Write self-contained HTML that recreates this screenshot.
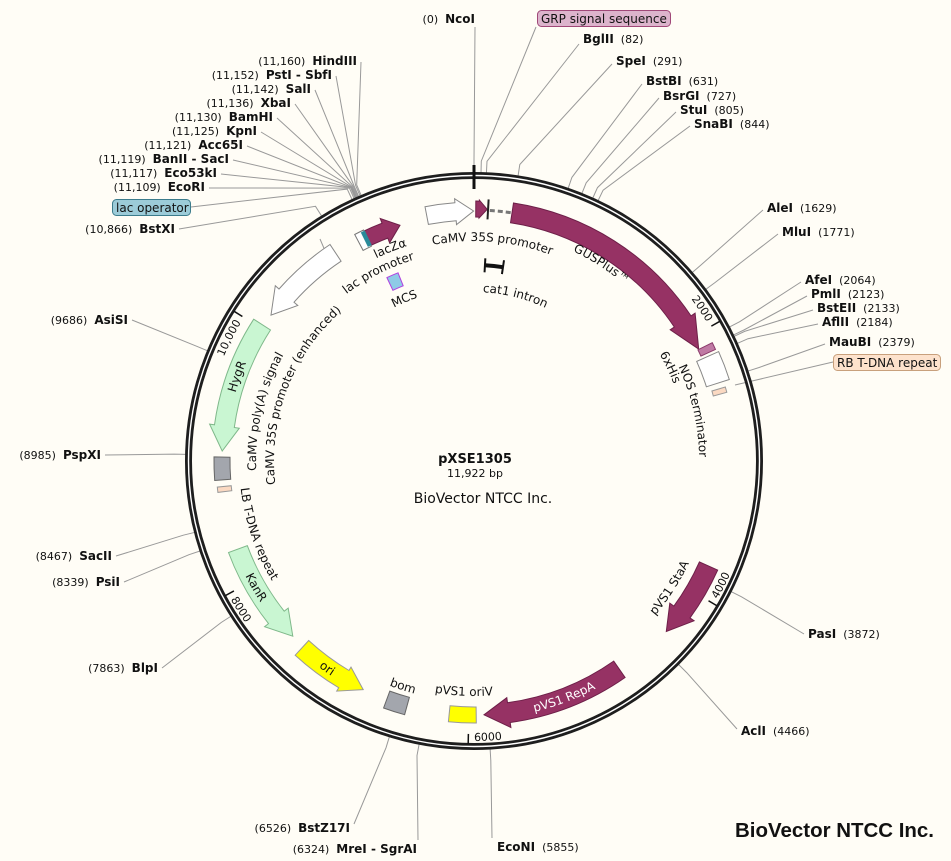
<!DOCTYPE html>
<html><head><meta charset="utf-8">
<style>
html,body{margin:0;padding:0;background:#fffdf6;}
svg{display:block;font-family:"DejaVu Sans","Liberation Sans",sans-serif;}
.n{font-size:11px;fill:#111;}
.b{font-size:12px;font-weight:bold;fill:#111;}
.f{font-size:12px;fill:#111;}
.tk{font-size:11px;fill:#111;}
</style></head>
<body>
<svg id="s" width="951" height="861" viewBox="0 0 951 861" xmlns="http://www.w3.org/2000/svg">
<rect width="951" height="861" fill="#fffdf6"/>
<defs id="d">
<path id="t1"/><path id="t2"/><path id="t3"/><path id="t4"/><path id="t5"/><path id="t6"/>
<path id="t7"/><path id="t8"/><path id="t9"/><path id="t10"/><path id="t11"/><path id="t12"/>
<path id="t13"/><path id="t14"/><path id="t15"/><path id="t16"/><path id="t17"/><path id="t18"/>
<path id="k2"/><path id="k4"/><path id="k6"/><path id="k8"/><path id="k10"/>
</defs>
<g id="lines" stroke="#999" stroke-width="1" fill="none"></g>
<circle cx="474" cy="461" r="285.5" fill="none" stroke="#1e1e1e" stroke-width="7"/>
<circle cx="474" cy="461" r="285.5" fill="none" stroke="#fff" stroke-width="1.4"/>
<g id="feat"></g>

<!-- boxed labels -->
<rect x="537.5" y="10.5" width="133" height="16" rx="4" fill="#dcb4cc" stroke="#a04878"/>
<text x="541" y="23" font-size="12" fill="#111">GRP signal sequence</text>
<rect x="112.5" y="199.5" width="78" height="16" rx="4" fill="#9ccbd8" stroke="#3c7c8c"/>
<text x="116" y="212" font-size="12" fill="#111">lac operator</text>
<rect x="833.5" y="354.5" width="107" height="16" rx="4" fill="#fde2cc" stroke="#c8a07c"/>
<text x="837" y="367" font-size="12" fill="#111">RB T-DNA repeat</text>

<!-- left cluster -->
<g text-anchor="end">
<text x="357" y="65"><tspan class="n">(11,160)</tspan><tspan class="b" dx="7">HindIII</tspan></text>
<text x="332" y="79"><tspan class="n">(11,152)</tspan><tspan class="b" dx="7">PstI - SbfI</tspan></text>
<text x="311" y="93"><tspan class="n">(11,142)</tspan><tspan class="b" dx="7">SalI</tspan></text>
<text x="291" y="107"><tspan class="n">(11,136)</tspan><tspan class="b" dx="7">XbaI</tspan></text>
<text x="273" y="121"><tspan class="n">(11,130)</tspan><tspan class="b" dx="7">BamHI</tspan></text>
<text x="257" y="135"><tspan class="n">(11,125)</tspan><tspan class="b" dx="7">KpnI</tspan></text>
<text x="243" y="149"><tspan class="n">(11,121)</tspan><tspan class="b" dx="7">Acc65I</tspan></text>
<text x="229" y="163"><tspan class="n">(11,119)</tspan><tspan class="b" dx="7">BanII - SacI</tspan></text>
<text x="217" y="177"><tspan class="n">(11,117)</tspan><tspan class="b" dx="7">Eco53kI</tspan></text>
<text x="205" y="191"><tspan class="n">(11,109)</tspan><tspan class="b" dx="7">EcoRI</tspan></text>
<text x="175" y="233"><tspan class="n">(10,866)</tspan><tspan class="b" dx="7">BstXI</tspan></text>
<text x="475" y="23"><tspan class="n">(0)</tspan><tspan class="b" dx="7">NcoI</tspan></text>
<text x="128" y="324"><tspan class="n">(9686)</tspan><tspan class="b" dx="7">AsiSI</tspan></text>
<text x="101" y="459"><tspan class="n">(8985)</tspan><tspan class="b" dx="7">PspXI</tspan></text>
<text x="112" y="560"><tspan class="n">(8467)</tspan><tspan class="b" dx="7">SacII</tspan></text>
<text x="120" y="586"><tspan class="n">(8339)</tspan><tspan class="b" dx="7">PsiI</tspan></text>
<text x="158" y="672"><tspan class="n">(7863)</tspan><tspan class="b" dx="7">BlpI</tspan></text>
<text x="350" y="832"><tspan class="n">(6526)</tspan><tspan class="b" dx="7">BstZ17I</tspan></text>
<text x="417" y="853"><tspan class="n">(6324)</tspan><tspan class="b" dx="7">MreI - SgrAI</tspan></text>
</g>
<g>
<text x="583" y="43"><tspan class="b">BglII</tspan><tspan class="n" dx="7">(82)</tspan></text>
<text x="616" y="65"><tspan class="b">SpeI</tspan><tspan class="n" dx="7">(291)</tspan></text>
<text x="646" y="85"><tspan class="b">BstBI</tspan><tspan class="n" dx="7">(631)</tspan></text>
<text x="663" y="100"><tspan class="b">BsrGI</tspan><tspan class="n" dx="7">(727)</tspan></text>
<text x="680" y="114"><tspan class="b">StuI</tspan><tspan class="n" dx="7">(805)</tspan></text>
<text x="694" y="128"><tspan class="b">SnaBI</tspan><tspan class="n" dx="7">(844)</tspan></text>
<text x="767" y="212"><tspan class="b">AleI</tspan><tspan class="n" dx="7">(1629)</tspan></text>
<text x="782" y="236"><tspan class="b">MluI</tspan><tspan class="n" dx="7">(1771)</tspan></text>
<text x="805" y="284"><tspan class="b">AfeI</tspan><tspan class="n" dx="7">(2064)</tspan></text>
<text x="811" y="298"><tspan class="b">PmlI</tspan><tspan class="n" dx="7">(2123)</tspan></text>
<text x="817" y="312"><tspan class="b">BstEII</tspan><tspan class="n" dx="7">(2133)</tspan></text>
<text x="822" y="326"><tspan class="b">AflII</tspan><tspan class="n" dx="7">(2184)</tspan></text>
<text x="829" y="346"><tspan class="b">MauBI</tspan><tspan class="n" dx="7">(2379)</tspan></text>
<text x="808" y="638"><tspan class="b">PasI</tspan><tspan class="n" dx="7">(3872)</tspan></text>
<text x="741" y="735"><tspan class="b">AclI</tspan><tspan class="n" dx="7">(4466)</tspan></text>
<text x="497" y="851"><tspan class="b">EcoNI</tspan><tspan class="n" dx="7">(5855)</tspan></text>
</g>

<!-- feature labels along arcs -->
<g class="f" text-anchor="middle">
<text><textPath href="#t1" startOffset="50%">CaMV 35S promoter</textPath></text>
<text><textPath href="#t2" startOffset="50%">GUSPlus™</textPath></text>
<text><textPath href="#t3" startOffset="50%">lacZα</textPath></text>
<text><textPath href="#t4" startOffset="50%">lac promoter</textPath></text>
<text><textPath href="#t5" startOffset="50%">MCS</textPath></text>
<text><textPath href="#t6" startOffset="50%">cat1 intron</textPath></text>
<text><textPath href="#t7" startOffset="50%">CaMV poly(A) signal</textPath></text>
<text><textPath href="#t8" startOffset="50%">CaMV 35S promoter (enhanced)</textPath></text>
<text><textPath href="#t9" startOffset="50%">HygR</textPath></text>
<text><textPath href="#t10" startOffset="50%">LB T-DNA repeat</textPath></text>
<text><textPath href="#t11" startOffset="50%">KanR</textPath></text>
<text><textPath href="#t12" startOffset="50%">ori</textPath></text>
<text><textPath href="#t13" startOffset="50%">bom</textPath></text>
<text><textPath href="#t14" startOffset="50%">pVS1 oriV</textPath></text>
<text fill="#fff" style="fill:#fff"><textPath href="#t15" startOffset="50%">pVS1 RepA</textPath></text>
<text><textPath href="#t16" startOffset="50%">pVS1 StaA</textPath></text>
<text><textPath href="#t17" startOffset="50%">NOS terminator</textPath></text>
<text><textPath href="#t18" startOffset="50%">6xHis</textPath></text>
</g>
<g class="tk">
<text text-anchor="end"><textPath href="#k2" startOffset="100%">2000</textPath></text>
<text><textPath href="#k4">4000</textPath></text>
<text><textPath href="#k6">6000</textPath></text>
<text><textPath href="#k8">8000</textPath></text>
<text text-anchor="end"><textPath href="#k10" startOffset="100%">10,000</textPath></text>
</g>

<text x="475" y="463" text-anchor="middle" font-size="13" font-weight="bold" fill="#111">pXSE1305</text>
<text x="475" y="477" text-anchor="middle" font-size="11" fill="#111">11,922 bp</text>
<text x="483" y="503" text-anchor="middle" font-size="14" fill="#111">BioVector NTCC Inc.</text>
<text x="735" y="837" font-family="Liberation Sans, sans-serif" font-size="20" font-weight="bold" fill="#111" textLength="199" lengthAdjust="spacingAndGlyphs">BioVector NTCC Inc.</text>
</svg>
<script>
(function(){
var cx=474,cy=461,NS="http://www.w3.org/2000/svg",L=11922;
function P(a,r){var t=a*Math.PI/180;return [cx+r*Math.sin(t),cy-r*Math.cos(t)];}
function f(p){return p[0].toFixed(1)+","+p[1].toFixed(1);}
function ang(x,y){var a=Math.atan2(x-cx,cy-y)*180/Math.PI;if(a<0)a+=360;return a;}
function el(tag,at,par){var e=document.createElementNS(NS,tag);for(var k in at)e.setAttribute(k,at[k]);document.getElementById(par).appendChild(e);return e;}
function arcTxt(c,r,cw,span){span=span||70;
 if(cw)return "M"+f(P(c-span,r))+" A"+r+","+r+" 0 0 1 "+f(P(c+span,r));
 return "M"+f(P(c+span,r))+" A"+r+","+r+" 0 0 0 "+f(P(c-span,r));}
function band(a1,a2,rm,h,fill,stroke,dir,hw,head){
 var ro=rm+h,ri=rm-h,d,lg=(a2-a1)>180?1:0;
 if(!dir){d="M"+f(P(a1,ro))+" A"+ro+","+ro+" 0 "+lg+" 1 "+f(P(a2,ro))+" L"+f(P(a2,ri))+" A"+ri+","+ri+" 0 "+lg+" 0 "+f(P(a1,ri))+" Z";}
 else{var ha=head/rm*180/Math.PI;
  if(dir>0){var b=a2-ha;d="M"+f(P(a1,ro))+" A"+ro+","+ro+" 0 0 1 "+f(P(b,ro))+" L"+f(P(b,rm+hw))+" L"+f(P(a2,rm))+" L"+f(P(b,rm-hw))+" L"+f(P(b,ri))+" A"+ri+","+ri+" 0 0 0 "+f(P(a1,ri))+" Z";}
  else{var b=a1+ha;d="M"+f(P(a1,rm))+" L"+f(P(b,rm+hw))+" L"+f(P(b,ro))+" A"+ro+","+ro+" 0 0 1 "+f(P(a2,ro))+" L"+f(P(a2,ri))+" A"+ri+","+ri+" 0 0 0 "+f(P(b,ri))+" L"+f(P(b,rm-hw))+" Z";}
 }
 return el("path",{d:d,fill:fill,stroke:stroke,"stroke-width":1},"feat");}
var M="#963264",G="#c9f6d2",GS="#7fb88a",Y="#ffff00",YS="#999",GR="#a3a6ad";
// leader lines
var labs=[[361,62,11160],[336,76,11152],[315,90,11142],[295,104,11136],[277,118,11130],[261,132,11125],[247,146,11121],[233,160,11119],[221,174,11117],[209,188,11109],[179,229,10866],
[475,27,0],[132,320,9686],[105,455,8985],[116,556,8467],[124,582,8339],[162,668,7863],[354,824,6526],[418,840,6324],
[579,44,82],[612,64,291],[642,84,631],[659,98,727],[676,112,805],[690,126,844],[763,210,1629],[778,234,1771],[801,282,2064],[807,296,2123],[813,310,2133],[818,324,2184],[825,344,2379],[804,634,3872],[737,729,4466],[492,838,5855]];
labs.forEach(function(l){var a=l[2]/L*360,p1=P(a,300),p2=P(a,288);
 el("polyline",{points:l[0]+","+l[1]+" "+f(p1)+" "+f(p2)},"lines");});
el("polyline",{points:"191,207 "+f(P(335,300))+" "+f(P(335,288))},"lines");
el("polyline",{points:"536,27 "+f(P(1.4,300))+" "+f(P(1.4,288))},"lines");
el("line",{x1:833,y1:362,x2:735,y2:385},"lines");
el("line",{x1:320,y1:239,x2:326,y2:253},"lines");
// features
band(ang(512,213),ang(703,347),251,10,M,"#6d1f48",1,15,32);
band(ang(426,212),359.9,250,9,"#fff","#888",1,13,18);
band(0.4,3.0,252,8,M,"#6d1f48",1,9,8);
var bb=P(3.2,242),bt=P(3.2,262);el("line",{x1:bb[0],y1:bb[1],x2:bt[0],y2:bt[1],stroke:"#222","stroke-width":2},"feat");
el("path",{d:"M"+f(P(3.6,251))+" A251,251 0 0 1 "+f(P(8.6,251)),stroke:"#777","stroke-width":3,fill:"none","stroke-dasharray":"5,3"},"feat");
band(ang(364,236),ang(398,219),247,8,M,"#6d1f48",1,13,16);
band(ang(356,237),ang(365,233),247,9,"#fff","#777",0);
band(ang(362,235),ang(366,233),247,8,"#2a8a9a","none",0);
band(ang(268,313),ang(333,249),250,10,"#fff","#888",-1,15,25);
band(ang(221,451),ang(258,322),252,10,G,GS,-1,15,25);
band(265.7,270.9,252,8,GR,"#666",0);
band(263.0,264.2,251,7,"#fbd9c2","#999",0);
band(ang(292,637),ang(238,549),252,10,G,GS,-1,15,25);
band(ang(363,690),ang(300,650),254,10,Y,YS,-1,14,22);
band(195.3,200.1,254,9,GR,"#666",0);
band(179.5,185.6,254,8,Y,YS,0);
band(ang(622,673),ang(484,716),254,10,M,"#6d1f48",1,15,25);
band(ang(713,568),ang(668,633),257,10,M,"#6d1f48",1,15,25);
band(65.9,72.3,256,12,"#fff","#888",0);
band(63.6,65.2,258,8,"#c07aa4","#8a3a6a",0);
band(73.6,74.8,255,7,"#fbd9c2","#999",0);
band(334.6,338,196,7,"#8ecae6","#b040e0",0);
// cat1 intron I-beam
var a1=3.2,a2=8.5;el("path",{d:"M"+f(P(a1,196))+" A196,196 0 0 1 "+f(P(a2,196)),stroke:"#111","stroke-width":4,fill:"none"},"feat");
[a1,a2].forEach(function(a){var p=P(a,189),q=P(a,203);el("line",{x1:p[0],y1:p[1],x2:q[0],y2:q[1],stroke:"#111","stroke-width":2},"feat");});
// ticks
var t0=P(0,272),t1=P(0,296);el("line",{x1:t0[0],y1:t0[1],x2:t1[0],y2:t1[1],stroke:"#111","stroke-width":3},"feat");
[2000,4000,6000,8000,10000].forEach(function(v){var a=v/L*360,p=P(a,273),q=P(a,283);el("line",{x1:p[0],y1:p[1],x2:q[0],y2:q[1],stroke:"#111","stroke-width":1.5},"feat");});
// text paths
var T=[["t1",493,238,220,1],["t2",602,263,232,1],["t3",390,248,225,1],["t4",377,270,210,1],["t5",404,298,173,1],["t6",516,293,169,1],
["t7",258,410,218,1],["t8",283,388,200,1],["t9",233,375,248,1],["t10",255,535,235,0],["t11",255,588,256,0],["t12",329,666,258,0],
["t13",403,686,240,0],["t14",464,692,235,0],["t15",562,692,258,0],["t16",670,588,238,0],["t17",697,410,225,1],["t18",671,367,214,1]];
T.forEach(function(t){document.getElementById(t[0]).setAttribute("d",arcTxt(ang(t[1],t[2]),t[3],t[4]));});
function kcw(id,v){var a=v/L*360-1.2,r=271;document.getElementById(id).setAttribute("d","M"+f(P(a-40,r))+" A"+r+","+r+" 0 0 1 "+f(P(a,r)));}
function kccw(id,v){var a=v/L*360-1.2,r=280;document.getElementById(id).setAttribute("d","M"+f(P(a,r))+" A"+r+","+r+" 0 0 0 "+f(P(a-40,r)));}
kcw("k2",2000);kcw("k10",10000);kccw("k4",4000);kccw("k6",6000);kccw("k8",8000);
})();
</script>
</body></html>
